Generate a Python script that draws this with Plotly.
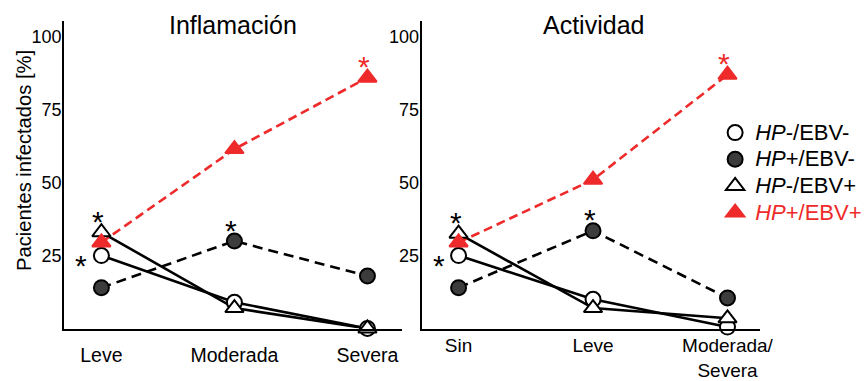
import plotly.graph_objects as go

# ---------------- data ----------------
cats_infl = ["Leve", "Moderada", "Severa"]
cats_act = ["Sin", "Leve", "Moderada/<br>Severa"]

series_names = ["<i>HP</i>-/EBV-", "<i>HP</i>+/EBV-", "<i>HP</i>-/EBV+",
                "<span style='color:#ee2a2a'><i>HP</i>+/EBV+</span>"]

infl_hpneg_ebvneg = [25, 9, 0]
infl_hppos_ebvneg = [14, 30, 18]
infl_hpneg_ebvpos = [33, 7, 0]
infl_hppos_ebvpos = [29.5, 61.5, 86]

act_hpneg_ebvneg = [25, 10, 0.5]
act_hppos_ebvneg = [14, 33.5, 10.5]
act_hpneg_ebvpos = [32.5, 7, 3.5]
act_hppos_ebvpos = [29.5, 51, 87]

y_ticks = [25, 50, 75, 100]

# significance marks: (panel, series index, category index)
sig_marks = [
    (0, 2, 0), (0, 0, 0), (0, 1, 1), (0, 3, 2),
    (1, 2, 0), (1, 0, 0), (1, 1, 1), (1, 3, 2),
]

# ---------------- styling ----------------
RED = "#ee2a2a"
DARK = "#3c3c3c"
FONT = "Liberation Sans, Arial, sans-serif"
W, H = 868, 381


def px(x):
    return x / W


def py(y):
    return 1 - y / H


styles = [
    dict(symbol="circle", color="white", line_color="black", dash="solid", lcolor="black", size=15),
    dict(symbol="circle", color=DARK, line_color="black", dash="10px,6px", lcolor="black", size=15),
    dict(symbol="triangle-up", color="white", line_color="black", dash="solid", lcolor="black", size=16),
    dict(symbol="triangle-up", color=RED, line_color=RED, dash="9px,5px", lcolor=RED, size=16),
]

panels = [
    dict(data=[infl_hpneg_ebvneg, infl_hppos_ebvneg, infl_hpneg_ebvpos, infl_hppos_ebvpos],
         cats=cats_infl, xa="x", ya="y"),
    dict(data=[act_hpneg_ebvneg, act_hppos_ebvneg, act_hpneg_ebvpos, act_hppos_ebvpos],
         cats=cats_act, xa="x2", ya="y2"),
]

fig = go.Figure()

# lines first
for p in panels:
    xs = list(range(len(p["cats"])))
    for s, vals in zip(styles, p["data"]):
        fig.add_trace(go.Scatter(
            x=xs, y=vals, mode="lines", xaxis=p["xa"], yaxis=p["ya"],
            line=dict(color=s["lcolor"], width=2.6, dash=s["dash"]),
            showlegend=False, hoverinfo="skip", cliponaxis=False))

# markers on top
for pi, p in enumerate(panels):
    xs = list(range(len(p["cats"])))
    for si, (s, vals) in enumerate(zip(styles, p["data"])):
        fig.add_trace(go.Scatter(
            x=xs, y=vals, mode="markers", xaxis=p["xa"], yaxis=p["ya"],
            name="<span style='font-size:22px'>" + series_names[si] + "</span>",
            showlegend=(pi == 0), cliponaxis=False,
            marker=dict(symbol=s["symbol"], size=s["size"], color=s["color"],
                        line=dict(color=s["line_color"], width=2))))

annotations = []
for (pi, si, ci) in sig_marks:
    p = panels[pi]
    val = p["data"][si][ci]
    col = RED if si == 3 else "black"
    if si == 0:
        xs_, ys_ = -20, -10
    else:
        xs_, ys_ = -3, 11
    annotations.append(dict(
        x=ci, y=val, xref=p["xa"], yref=p["ya"], text="*", showarrow=False,
        xanchor="center", yanchor="middle",
        xshift=xs_, yshift=ys_, font=dict(size=30, color=col, family=FONT)))

annotations += [
    dict(x=px(237), y=py(25), xref="paper", yref="paper", text="Inflamación",
         xanchor="center", yanchor="middle",
         showarrow=False, font=dict(size=25, color="black", family=FONT)),
    dict(x=px(603), y=py(25), xref="paper", yref="paper", text="Actividad",
         xanchor="center", yanchor="middle",
         showarrow=False, font=dict(size=25, color="black", family=FONT)),
    dict(x=px(25), y=py(162), xref="paper", yref="paper", text="Pacientes infectados [%]",
         xanchor="center", yanchor="middle",
         showarrow=False, textangle=-90, font=dict(size=20.2, color="black", family=FONT)),
]

axis_common = dict(showgrid=False, zeroline=False, showline=True, linecolor="black",
                   linewidth=2, ticks="", color="black")

ydom = [py(332), py(21)]

fig.update_layout(
    width=W, height=H,
    margin=dict(l=0, r=0, t=0, b=0),
    paper_bgcolor="white", plot_bgcolor="white",
    font=dict(family=FONT, color="black"),
    xaxis=dict(domain=[px(65), px(408)], range=[-0.281, 2.259],
               tickvals=[0, 1, 2], ticktext=cats_infl, tickfont=dict(size=19.5),
               ticklabelstandoff=8, **axis_common),
    yaxis=dict(domain=ydom, range=[0, 105.5], tickvals=y_ticks,
               tickfont=dict(size=18), anchor="x", ticklabelstandoff=-3, **axis_common),
    xaxis2=dict(domain=[px(428), px(772)], range=[-0.275, 2.245], anchor="y2",
                tickvals=[0, 1, 2], ticktext=cats_act, tickfont=dict(size=19),
                ticklabelstandoff=-1, **axis_common),
    yaxis2=dict(domain=ydom, range=[0, 105.5], tickvals=y_ticks,
                tickfont=dict(size=18), anchor="x2", ticklabelstandoff=-3, **axis_common),
    legend=dict(x=px(726), y=py(115.5), xanchor="left", yanchor="top",
                font=dict(size=18.2, family=FONT, color="black"),
                bgcolor="rgba(0,0,0,0)", tracegroupgap=0),
    annotations=annotations,
)

fig.write_html("out.html", config={"displayModeBar": False},
               post_script="document.body.style.margin='0';")
